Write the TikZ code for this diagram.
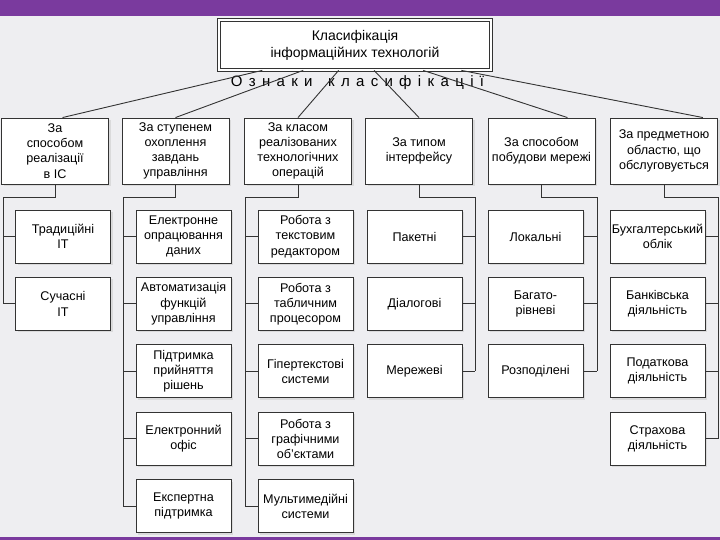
\documentclass[tikz,border=0pt]{standalone}
\usepackage{fontspec}
\setmainfont{Liberation Sans}
\newfontfamily\spacedfont[LetterSpace=42]{Liberation Sans}
\usetikzlibrary{positioning,calc,shadows}
\definecolor{slide-purple}{HTML}{7A3A9E}
\definecolor{paper}{HTML}{EEEEF1}

\begin{document}
\begin{tikzpicture}[x=1pt, y=-1pt,
  title/.style={draw=black!80, line width=0.8pt, double=white, double distance=1.6pt, fill=white, minimum width=272pt, minimum height=50pt, align=center, font=\fontsize{14}{17}\selectfont},
  crit/.style={draw=black!80, line width=0.9pt, fill=white, minimum width=107pt, minimum height=66pt, align=center, inner sep=0.5pt, font=\fontsize{12.6}{15.2}\selectfont, drop shadow={shadow xshift=2pt, shadow yshift=-2pt, fill=black!22}},
  item/.style={crit, minimum width=95pt, minimum height=53pt},
  link/.style={black!80, line width=0.9pt}
]
  \useasboundingbox (0,0) rectangle (720,540);
  \fill[paper] (0,0) rectangle (720,540);
  \fill[slide-purple] (0,0) rectangle (720,16);
  \fill[slide-purple] (0,536.5) rectangle (720,540);

  \node[title] (classif) at (355,45) {Класифікація\\інформаційних технологій};
  \node[font=\spacedfont\fontsize{15}{17}\selectfont, inner sep=0pt] (signs) at (357.5,83) {Ознаки\hspace{5pt} класифікації};

  \node[crit] (realiz) at (55,151) {За\\способом\\реалізації\\в ІС};
  \node[crit] (scope) at (175.5,151) {За ступенем\\охоплення\\завдань\\управління};
  \node[crit] (oper) at (298,151) {За класом\\реалізованих\\технологічних\\операцій};
  \node[crit] (iface) at (419,151) {За типом\\інтерфейсу};
  \node[crit] (net) at (541.5,151) {За способом\\побудови мережі};
  \node[crit] (domain) at (664,151) {За предметною\\областю, що\\обслуговується};

  \node[item] (trad) at (63,236.5) {Традиційні\\ІТ};
  \node[item, below=13.5pt of trad] (modern) {Сучасні\\ІТ};

  \node[item] (edp) at (183.5,236.5) {Електронне\\опрацювання\\даних};
  \node[item, below=13.5pt of edp] (autom) {Автоматизація\\функцій\\управління};
  \node[item, below=13.5pt of autom] (dss) {Підтримка\\прийняття\\рішень};
  \node[item, below=13.5pt of dss] (office) {Електронний\\офіс};
  \node[item, below=13.5pt of office] (expert) {Експертна\\підтримка};

  \node[item] (text) at (305.5,236.5) {Робота з\\текстовим\\редактором};
  \node[item, below=13.5pt of text] (table) {Робота з\\табличним\\процесором};
  \node[item, below=13.5pt of table] (hyper) {Гіпертекстові\\системи};
  \node[item, below=13.5pt of hyper] (graph) {Робота з\\графічними\\об’єктами};
  \node[item, below=13.5pt of graph] (media) {Мультимедійні\\системи};

  \node[item] (batch) at (414.5,236.5) {Пакетні};
  \node[item, below=13.5pt of batch] (dialog) {Діалогові};
  \node[item, below=13.5pt of dialog] (netw) {Мережеві};

  \node[item] (local) at (535.5,236.5) {Локальні};
  \node[item, below=13.5pt of local] (multi) {Багато-\\рівневі};
  \node[item, below=13.5pt of multi] (distr) {Розподілені};

  \node[item] (acct) at (657.5,236.5) {Бухгалтерський\\облік};
  \node[item, below=13.5pt of acct] (banking) {Банківська\\діяльність};
  \node[item, below=13.5pt of banking] (tax) {Податкова\\діяльність};
  \node[item, below=13.5pt of tax] (insur) {Страхова\\діяльність};

  \draw[link] ($(classif.south west)!0.16!(classif.south east)$) -- ($(realiz.north west)!0.57!(realiz.north east)$);
  \draw[link] ($(classif.south west)!0.31!(classif.south east)$) -- (scope.north);
  \draw[link] ($(classif.south west)!0.44!(classif.south east)$) -- (oper.north);
  \draw[link] ($(classif.south west)!0.57!(classif.south east)$) -- (iface.north);
  \draw[link] ($(classif.south west)!0.75!(classif.south east)$) -- ($(net.north west)!0.74!(net.north east)$);
  \draw[link] ($(classif.south west)!0.89!(classif.south east)$) -- ($(domain.north west)!0.86!(domain.north east)$);

  \coordinate (rbus) at (3,197);
  \coordinate (sbus) at (123,197);
  \coordinate (obus) at (245,197);
  \coordinate (ibus) at (475,197);
  \coordinate (nbus) at (597,197);
  \coordinate (dbus) at (718,197);

  \draw[link] (realiz.south) |- (rbus) -- (rbus |- modern.west);
  \draw[link] (trad.west) -- (trad.west -| rbus) (modern.west) -- (modern.west -| rbus);
  \draw[link] (scope.south) |- (sbus) -- (sbus |- expert.west);
  \draw[link] (edp.west) -- (edp.west -| sbus) (autom.west) -- (autom.west -| sbus) (dss.west) -- (dss.west -| sbus) (office.west) -- (office.west -| sbus) (expert.west) -- (expert.west -| sbus);
  \draw[link] (oper.south) |- (obus) -- (obus |- media.west);
  \draw[link] (text.west) -- (text.west -| obus) (table.west) -- (table.west -| obus) (hyper.west) -- (hyper.west -| obus) (graph.west) -- (graph.west -| obus) (media.west) -- (media.west -| obus);
  \draw[link] (iface.south) |- (ibus) -- (ibus |- netw.east);
  \draw[link] (batch.east) -- (batch.east -| ibus) (dialog.east) -- (dialog.east -| ibus) (netw.east) -- (netw.east -| ibus);
  \draw[link] (net.south) |- (nbus) -- (nbus |- distr.east);
  \draw[link] (local.east) -- (local.east -| nbus) (multi.east) -- (multi.east -| nbus) (distr.east) -- (distr.east -| nbus);
  \draw[link] (domain.south) |- (dbus) -- (dbus |- insur.east);
  \draw[link] (acct.east) -- (acct.east -| dbus) (banking.east) -- (banking.east -| dbus) (tax.east) -- (tax.east -| dbus) (insur.east) -- (insur.east -| dbus);
\end{tikzpicture}
\end{document}
